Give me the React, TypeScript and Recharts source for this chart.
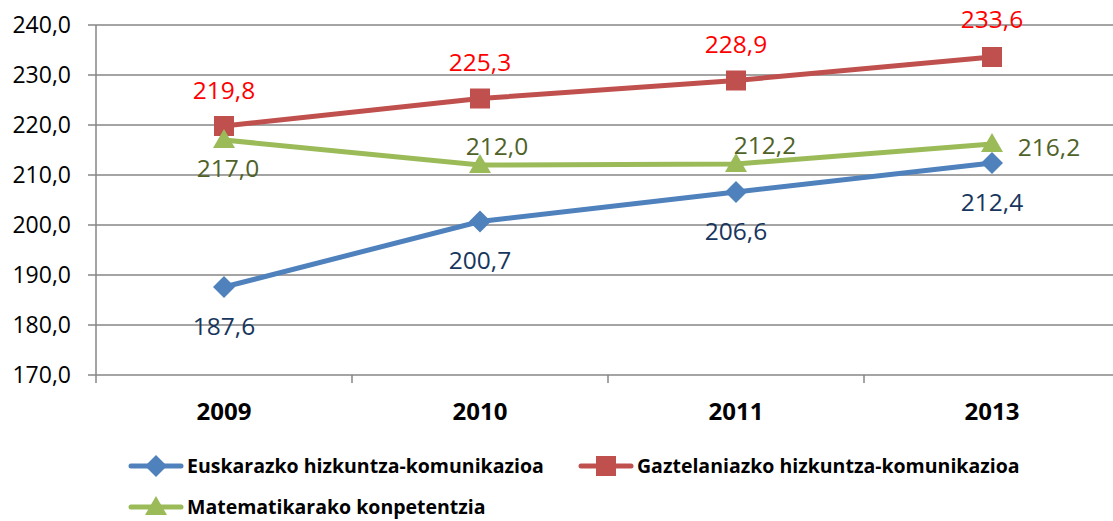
import React from "react";
import { LineChart, Line, XAxis, YAxis, CartesianGrid, LabelList } from "recharts";

const years = ["2009", "2010", "2011", "2013"];
const euskara = [187.6, 200.7, 206.6, 212.4];
const gaztelania = [219.8, 225.3, 228.9, 233.6];
const matematika = [217.0, 212.0, 212.2, 216.2];
const yTicks = [170, 180, 190, 200, 210, 220, 230, 240];

const data = years.map((year, i) => ({
  year,
  eus: euskara[i],
  gaz: gaztelania[i],
  mat: matematika[i],
}));

type Shape = "diamond" | "square" | "triangle";

const series = [
  {
    key: "eus",
    name: "Euskarazko hizkuntza-komunikazioa",
    color: "#4F81BD",
    labelColor: "#17365D",
    shape: "diamond" as Shape,
    offsets: [[0, 38], [0, 38], [0, 38], [0, 38]],
  },
  {
    key: "gaz",
    name: "Gaztelaniazko hizkuntza-komunikazioa",
    color: "#C0504D",
    labelColor: "#FF0000",
    shape: "square" as Shape,
    offsets: [[0, -37], [0, -37], [0, -37], [0, -39]],
  },
  {
    key: "mat",
    name: "Matematikarako konpetentzia",
    color: "#9BBB59",
    labelColor: "#4F6228",
    shape: "triangle" as Shape,
    offsets: [[4, 27], [17, -20], [29, -20], [57, 2]],
  },
];

const fmt = (v: number) => v.toFixed(1).replace(".", ",");
const FONT = "'Open Sans', 'Noto Sans', sans-serif";

const Marker = ({ shape, cx, cy, color }: { shape: Shape; cx: number; cy: number; color: string }) => {
  if (shape === "square") {
    return <rect x={cx - 10} y={cy - 10} width={20} height={20} fill={color} />;
  }
  if (shape === "diamond") {
    return <polygon points={`${cx},${cy - 11} ${cx + 11},${cy} ${cx},${cy + 11} ${cx - 11},${cy}`} fill={color} />;
  }
  return <polygon points={`${cx},${cy - 11} ${cx + 11},${cy + 8} ${cx - 11},${cy + 8}`} fill={color} />;
};

const XTick = (props: any) => {
  const { x, payload, index } = props;
  return (
    <g>
      <line x1={x - 128} y1={375} x2={x - 128} y2={383} stroke="#868686" strokeWidth={1.5} />
      {index === years.length - 1 && (
        <line x1={x + 128} y1={375} x2={x + 128} y2={383} stroke="#868686" strokeWidth={1.5} />
      )}
      <text x={x} y={420} textAnchor="middle" fontWeight="bold" fontSize={24} fill="#000" fontFamily={FONT}>
        {payload.value}
      </text>
    </g>
  );
};

const LegendIcon = ({ shape, color }: { shape: Shape; color: string }) => (
  <svg width={56} height={24} style={{ display: "block" }}>
    <line x1={3} y1={12} x2={53} y2={12} stroke={color} strokeWidth={5} strokeLinecap="round" />
    <Marker shape={shape} cx={28} cy={12} color={color} />
  </svg>
);

const legendPos = [
  { left: 128, top: 454 },
  { left: 578, top: 454 },
  { left: 128, top: 495 },
];

export default function App() {
  return (
    <div
      style={{
        position: "absolute",
        left: 0,
        top: 0,
        width: 1113,
        height: 521,
        overflow: "hidden",
        background: "#fff",
        fontFamily: FONT,
      }}
    >
      <LineChart width={1130} height={521} data={data} margin={{ top: 25, right: 10, bottom: 116, left: 0 }}>
        <CartesianGrid vertical={false} stroke="#868686" strokeWidth={1.5} />
        <XAxis
          dataKey="year"
          height={30}
          padding={{ left: 128, right: 128 }}
          axisLine={false}
          tickLine={false}
          tick={<XTick />}
          interval={0}
        />
        <YAxis
          width={96}
          domain={[170, 240]}
          ticks={yTicks}
          tickFormatter={fmt}
          axisLine={{ stroke: "#868686", strokeWidth: 1.5 }}
          tickLine={{ stroke: "#868686", strokeWidth: 1.5 }}
          tickSize={8}
          tickMargin={17}
          tick={{ fill: "#000", fontSize: 23, fontFamily: FONT }}
          interval={0}
        />
        {series.map((s) => (
          <Line
            key={s.key}
            dataKey={s.key}
            name={s.name}
            type="linear"
            stroke={s.color}
            strokeWidth={5}
            isAnimationActive={false}
            dot={(p: any) => <Marker key={`${s.key}-${p.index}`} shape={s.shape} cx={p.cx} cy={p.cy} color={s.color} />}
            activeDot={false}
          >
            <LabelList
              dataKey={s.key}
              content={(p: any) => {
                const [dx, dy] = s.offsets[p.index];
                return (
                  <text
                    x={p.x + dx}
                    y={p.y + dy}
                    textAnchor="middle"
                    dominantBaseline="central"
                    fontSize={24.5}
                    fill={s.labelColor}
                    fontFamily={FONT}
                  >
                    {fmt(p.value)}
                  </text>
                );
              }}
            />
          </Line>
        ))}
      </LineChart>
      {series.map((s, i) => (
        <div
          key={s.key}
          style={{
            position: "absolute",
            left: legendPos[i].left,
            top: legendPos[i].top,
            display: "flex",
            alignItems: "center",
            gap: 3,
            fontWeight: "bold",
            fontSize: 19.5,
            lineHeight: "24px",
            color: "#000",
            whiteSpace: "nowrap",
          }}
        >
          <LegendIcon shape={s.shape} color={s.color} />
          <span>{s.name}</span>
        </div>
      ))}
    </div>
  );
}
